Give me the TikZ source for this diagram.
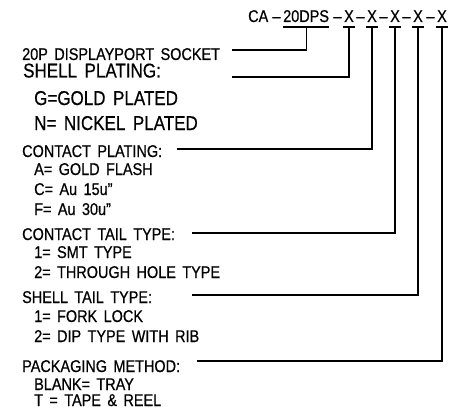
\documentclass[tikz,border=0pt]{standalone}
\usepackage{fontspec}
\setmainfont{Liberation Sans}[FakeStretch=0.85, WordSpace=1.6, FakeBold=0.6]
\begin{document}
\begin{tikzpicture}[x=1pt, y=-1pt,
    hdr/.style={inner sep=0pt, anchor=base, font=\fontsize{17}{17}\selectfont},
    lbl/.style={inner sep=0pt, anchor=base west, font=\fontsize{17}{17}\selectfont},
    biglbl/.style={lbl, font=\fontsize{20}{20}\selectfont},
    wire/.style={line width=1.1pt}
  ]
    \useasboundingbox (0,0) rectangle (454,409);

    \node[hdr, anchor=base west] (ca) at (248,22) {CA};
    \node[hdr] (d0) at (276.5,22) {--};
    \node[hdr, anchor=base west] (dps) at (283,22) {20DPS};
    \foreach \i/\xx in {1/349,2/372,3/395,4/418,5/442} {
      \node[hdr] (d\i) at (\xx-11.5,22) {--};
      \node[hdr] (x\i) at (\xx,22) {X};
    }

    \node[lbl] (socket) at (22,60) {20P DISPLAYPORT SOCKET};
    \node[biglbl] (shellp) at (23,77.5) {SHELL PLATING:};
    \node[biglbl] (gold) at (34,105) {G=GOLD PLATED};
    \node[biglbl] (nickel) at (34,130) {N= NICKEL PLATED};
    \node[lbl] (contp) at (22,157) {CONTACT PLATING:};
    \node[lbl] (flash) at (34,175) {A= GOLD FLASH};
    \node[lbl] (au15) at (34,195) {C= Au 15u\symbol{34}};
    \node[lbl] (au30) at (34,215) {F= Au 30u\symbol{34}};
    \node[lbl] (contt) at (22,240) {CONTACT TAIL TYPE:};
    \node[lbl] (smt) at (34,258) {1= SMT TYPE};
    \node[lbl] (thru) at (34,278) {2= THROUGH HOLE TYPE};
    \node[lbl] (shellt) at (22,303) {SHELL TAIL TYPE:};
    \node[lbl] (fork) at (34,322) {1= FORK LOCK};
    \node[lbl] (dip) at (34,342) {2= DIP TYPE WITH RIB};
    \node[lbl] (pack) at (22,372) {PACKAGING METHOD:};
    \node[lbl] (tray) at (34,390) {BLANK= TRAY};
    \node[lbl] (reel) at (34,406) {T = TAPE \& REEL};

    \coordinate (e0) at (232,50);
    \coordinate (e1) at (232,77);
    \coordinate (e2) at (177,149);
    \coordinate (e3) at (192,233);
    \coordinate (e4) at (192,295);
    \coordinate (e5) at (197,361);

    \draw[wire] ([yshift=-5pt]dps.base west) -- ([yshift=-5pt]dps.base east);
    \draw[wire] ([yshift=-5pt]dps.base) |- (e0);
    \foreach \i in {1,...,5} {
      \draw[wire] ([xshift=-6pt,yshift=-5pt]x\i.base) -- ([xshift=6pt,yshift=-5pt]x\i.base);
      \draw[wire] ([yshift=-5pt]x\i.base) |- (e\i);
    }
\end{tikzpicture}
\end{document}
